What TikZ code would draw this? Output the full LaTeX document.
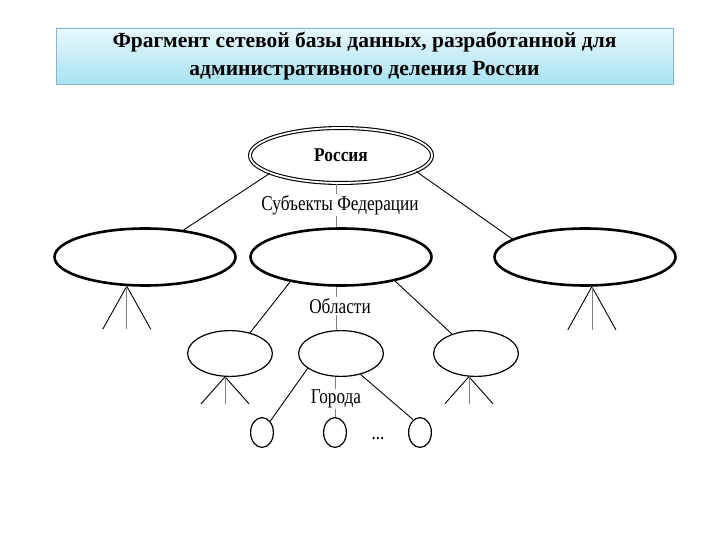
\documentclass[tikz,border=0pt]{standalone}
\usepackage{fontspec}
\setmainfont{Liberation Serif}
\newfontfamily\narrowserif[FakeStretch=0.82]{Liberation Serif}
\newfontfamily\rootserif[FakeStretch=0.89]{Liberation Serif}
\usetikzlibrary{shapes.geometric}
\definecolor{titletop}{HTML}{E8F8FC}
\definecolor{titlebot}{HTML}{A8E2F3}
\definecolor{titleedge}{HTML}{8AB4C8}

\begin{document}
\begin{tikzpicture}[x=1pt, y=-1pt,
  titlebox/.style={draw=titleedge, line width=0.6pt, top color=titletop, bottom color=titlebot,
    minimum width=617pt, minimum height=56pt, align=center, inner sep=0pt,
    font=\fontsize{21.5}{28}\selectfont\bfseries},
  rootnode/.style={ellipse, draw, double, line width=1.1pt, double distance=1.8pt,
    minimum width=182pt, minimum height=55pt, inner sep=0pt,
    font=\rootserif\fontsize{19.5}{20}\selectfont\bfseries},
  subjnode/.style={ellipse, draw, line width=2.6pt, minimum width=181pt, minimum height=57pt, inner sep=0pt},
  oblnode/.style={ellipse, draw, line width=1.2pt, minimum width=84.8pt, minimum height=45.8pt, inner sep=0pt},
  citynode/.style={ellipse, draw, line width=1.2pt, minimum width=22.8pt, minimum height=29.8pt, inner sep=0pt},
  level/.style={fill=white, inner sep=1pt, font=\narrowserif\fontsize{21}{22}\selectfont},
  link/.style={line width=0.9pt},
  spine/.style={line width=0.7pt, gray}]
  \useasboundingbox (0,0) rectangle (720,540);

  \node[titlebox] (title) at (364.5,56) {Фрагмент сетевой базы данных, разработанной для\\административного деления России};

  % nodes
  \node[rootnode] (russia) at (341,155.5) {Россия};
  \node[subjnode] (subj1) at (145,257) {};
  \node[subjnode] (subj2) at (341,257) {};
  \node[subjnode] (subj3) at (585,257) {};
  \node[oblnode] (obl1) at (230,353.5) {};
  \node[oblnode] (obl2) at (341,353.5) {};
  \node[oblnode] (obl3) at (476,353.5) {};
  \node[citynode] (city1) at (262,432.5) {};
  \node[citynode] (city2) at (335,432.5) {};
  \node[citynode] (city3) at (420,432.5) {};

  % connectors
  \draw[link] (russia.194) -- (subj1.35);
  \draw[link] (russia.348) -- (subj3.166);
  \draw[spine] ([xshift=-5pt]russia.south) -- ([xshift=-5pt]subj2.north);
  \draw[link] (subj2.206) -- (obl1.46);
  \draw[link] (subj2.336) -- (obl3.141);
  \draw[spine] ([xshift=-5pt]subj2.south) -- ([xshift=-5pt]obl2.north);
  \draw[link] (obl2.204) -- (city1.54);
  \draw[link] (obl2.313) -- (city3.118);
  \draw[spine] (city2.north |- obl2.south) -- (city2.north);

  % legs
  \foreach \n/\a/\h in {subj1/238/43, subj3/283/43, obl1/258/27, obl3/253/27} {
    \draw[link] (\n.\a) -- ++(-24,\h) (\n.\a) -- ++(24,\h);
    \draw[spine] (\n.\a) -- ++(0,\h);
  }

  % labels
  \node[level] (subjlabel) at (340,205) {Субъекты Федерации};
  \node[level] (obllabel) at (340,306) {Области};
  \node[level] (citylabel) at (336,399) {Города};
  \node[level, fill=none] (dots) at (378,439) {...};
\end{tikzpicture}
\end{document}
